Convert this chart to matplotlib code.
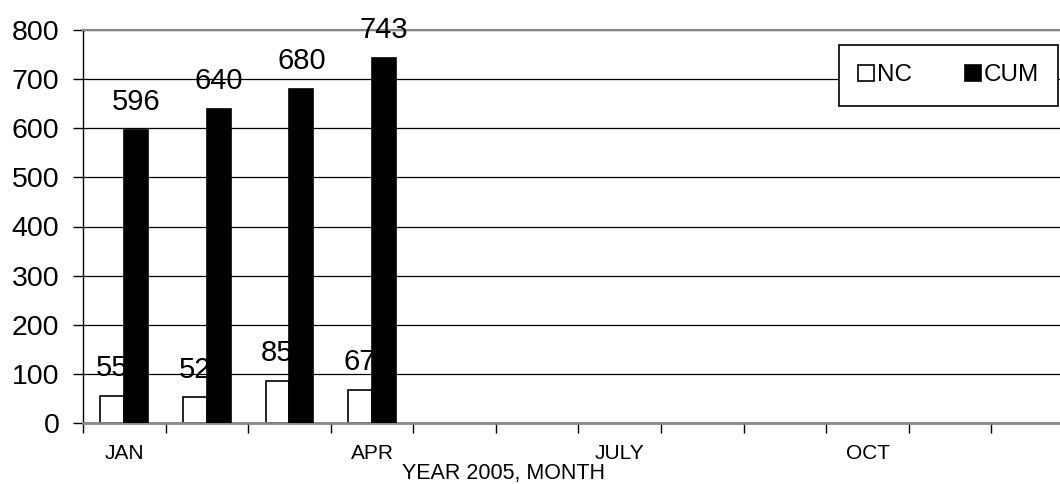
import numpy as np
import matplotlib
matplotlib.use("Agg")
import matplotlib.pyplot as plt

plt.rcParams['font.family'] = ['Liberation Sans', 'DejaVu Sans']

months = ["JAN", "FEB", "MAR", "APR", "MAY", "JUNE",
          "JULY", "AUG", "SEP", "OCT", "NOV", "DEC"]
shown_months = ["JAN", "APR", "JULY", "OCT"]
nc = [55, 52, 85, 67]
cum = [596, 640, 680, 743]

fig = plt.figure(figsize=(10.6, 4.84), dpi=100)
# axes runs a bit past the right edge of the figure
ax = fig.add_axes([83 / 1060, 61 / 484, 991 / 1060, 393 / 484])

x = np.arange(len(nc))
w = 0.29
nc_bars = ax.bar(x - w / 2, nc, w, color="white", edgecolor="black",
                 linewidth=1.2, zorder=2, label="NC")
cum_bars = ax.bar(x + w / 2, cum, w, color="black", edgecolor="black",
                  linewidth=1.2, zorder=4, label="CUM")

for xi, v in zip(x, nc):
    ax.annotate(str(v), (xi - w / 2, v), xytext=(0, 10), textcoords="offset points",
                ha="center", va="bottom", fontsize=21, zorder=3)
for xi, v in zip(x, cum):
    ax.annotate(str(v), (xi + w / 2, v), xytext=(0, 10), textcoords="offset points",
                ha="center", va="bottom", fontsize=21, zorder=5)

ax.set_xlim(-0.5, len(months) - 0.5)
ax.set_ylim(0, 800)
ax.set_yticks(np.arange(0, 801, 100))
ax.tick_params(axis="y", labelsize=20.5, length=7.5, width=1, pad=9.5, direction="out")

# month names at centers, tick marks at boundaries
ax.set_xticks(np.arange(-0.5, len(months), 1.0))
ax.set_xticklabels([])
ax.tick_params(axis="x", length=7, width=1, color="black")
label_pos = [months.index(m) for m in shown_months]
ax.set_xticks(label_pos, minor=True)
ax.set_xticklabels(shown_months, minor=True, fontsize=15)
ax.tick_params(axis="x", which="minor", length=0, pad=15)

ax.yaxis.grid(True, color="black", linewidth=0.9, zorder=0)
ax.set_axisbelow(True)
ax.spines["right"].set_visible(False)
ax.spines["top"].set_color("#888888")
ax.spines["top"].set_linewidth(1.5)
ax.spines["bottom"].set_color("#888888")
ax.spines["bottom"].set_linewidth(2)
ax.spines["left"].set_linewidth(1)

fig.text(504 / 1060, 1 - 474 / 484, "YEAR 2005, MONTH", ha="center", va="center",
         fontsize=15.5)

leg = ax.legend(loc="upper right", bbox_to_anchor=(1058 / 1060, 1 - 45 / 484),
                bbox_transform=fig.transFigure, ncol=2, fontsize=17.5,
                frameon=True, fancybox=False, edgecolor="black", framealpha=1,
                handlelength=0.65, handleheight=0.65, handletextpad=0.1,
                columnspacing=2.2, borderpad=0.8, borderaxespad=0)
leg.get_frame().set_linewidth(1.2)
leg.set_zorder(10)

fig.savefig("out.png", dpi=100)
